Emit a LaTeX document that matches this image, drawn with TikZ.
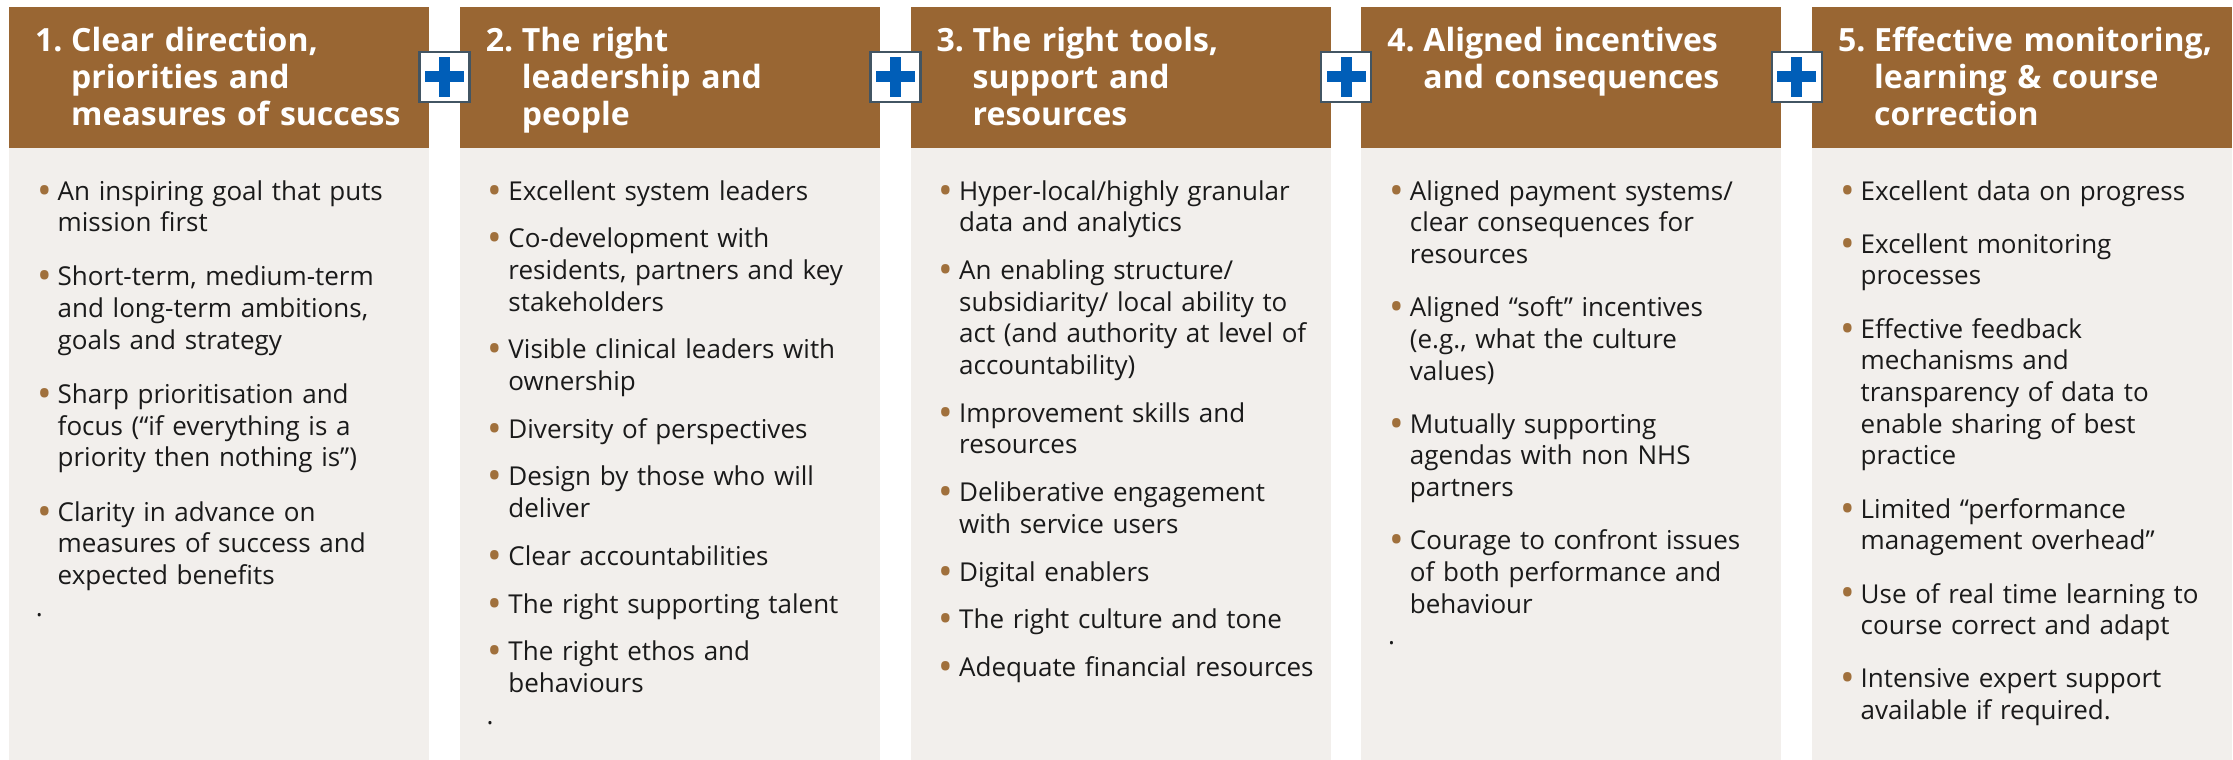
\documentclass[tikz,border=0pt]{standalone}
\usepackage{fontspec}
\setmainfont{Open Sans}
\definecolor{headbrown}{HTML}{996633}
\definecolor{panelgrey}{HTML}{F2EFEC}
\definecolor{dotbrown}{HTML}{A0703C}
\definecolor{nhsblue}{HTML}{005EB8}
\definecolor{frameslate}{HTML}{425563}
\definecolor{textdark}{HTML}{1A1A1A}
\newcommand{\bul}{\leavevmode\llap{\textcolor{dotbrown}{\raisebox{-4pt}{\scalebox{1.5}{\textbullet}}}\hspace{6pt}}}
\newcommand{\headnum}[1]{\llap{\makebox[36pt][l]{#1}}}
\begin{document}
\begin{tikzpicture}[x=1pt,y=-1pt,
  headbox/.style={fill=headbrown, minimum width=420pt, minimum height=141pt, inner sep=0pt, anchor=north west},
  panel/.style={fill=panelgrey, minimum width=420pt, minimum height=612pt, inner sep=0pt, anchor=north west},
  headtext/.style={text=white, font=\fontsize{32}{37}\selectfont\bfseries, text width=360pt, align=left, inner sep=0pt, anchor=base west},
  listtext/.style={text=textdark, font=\fontsize{26}{31.7}\selectfont, text width=380pt, align=left, inner sep=0pt, anchor=base west},
  plusframe/.style={draw=frameslate, line width=2.5pt, fill=white, minimum size=50pt, inner sep=0pt}]

\useasboundingbox (0,0) rectangle (2233,760);

% Column boxes: brown heading over grey panel
\foreach \i/\cx in {1/9,2/459.75,3/910.5,4/1361.25,5/1812}{
  \node[headbox] (h\i) at (\cx,7) {};
  \node[panel] (b\i) at (\cx,148) {};
}

% Plus signs between the columns
\foreach \i/\px in {1/444.5,2/895.25,3/1346,4/1796.75}{
  \node[plusframe] (p\i) at (\px,77) {};
  \fill[nhsblue] (\px-19.5,71.5) rectangle (\px+19.5,82.5);
  \fill[nhsblue] (\px-5.5,57.5) rectangle (\px+5.5,96.5);
}

% Headings
\node[headtext] (t1) at (71,52) {\headnum{1.}Clear direction,\\ priorities and\\ measures of success};
\node[headtext] (t2) at (521.75,52) {\headnum{2.}The right\\ leadership and\\ people};
\node[headtext] (t3) at (972.5,52) {\headnum{3.}The right tools,\\ support and\\ resources};
\node[headtext] (t4) at (1423.25,52) {\headnum{4.}Aligned incentives\\ and consequences};
\node[headtext] (t5) at (1874,52) {\headnum{5.}Effective monitoring,\\ learning \& course\\ correction};

% Bullet lists
\node[listtext] (l1) at (57.5,200) {\bul An inspiring goal that puts\\ mission first\\[22.5pt]
  \bul Short-term, medium-term\\ and long-term ambitions,\\ goals and strategy\\[22.5pt]
  \bul Sharp prioritisation and\\ focus (“if everything is a\\ priority then nothing is”)\\[22.5pt]
  \bul Clarity in advance on\\ measures of success and\\ expected benefits\\ \llap{.\hspace{15pt}}};

\node[listtext] (l2) at (508.25,200) {\bul Excellent system leaders\\[16pt]
  \bul Co-development with\\ residents, partners and key\\ stakeholders\\[16pt]
  \bul Visible clinical leaders with\\ ownership\\[16pt]
  \bul Diversity of perspectives\\[16pt]
  \bul Design by those who will\\ deliver\\[16pt]
  \bul Clear accountabilities\\[16pt]
  \bul The right supporting talent\\[16pt]
  \bul The right ethos and\\ behaviours\\ \llap{.\hspace{15pt}}};

\node[listtext] (l3) at (959,200) {\bul Hyper-local/highly granular\\ data and analytics\\[16pt]
  \bul An enabling structure/\\ subsidiarity/ local ability to\\ act (and authority at level of\\ accountability)\\[16pt]
  \bul Improvement skills and\\ resources\\[16pt]
  \bul Deliberative engagement\\ with service users\\[16pt]
  \bul Digital enablers\\[16pt]
  \bul The right culture and tone\\[16pt]
  \bul Adequate financial resources};

\node[listtext] (l4) at (1409.75,200) {\bul Aligned payment systems/\\ clear consequences for\\ resources\\[21.5pt]
  \bul Aligned “soft” incentives\\ (e.g., what the culture\\ values)\\[21.5pt]
  \bul Mutually supporting\\ agendas with non NHS\\ partners\\[21.5pt]
  \bul Courage to confront issues\\ of both performance and\\ behaviour\\ \llap{.\hspace{15pt}}};

\node[listtext] (l5) at (1860.5,200) {\bul Excellent data on progress\\[21.5pt]
  \bul Excellent monitoring\\ processes\\[21.5pt]
  \bul Effective feedback\\ mechanisms and\\ transparency of data to\\ enable sharing of best\\ practice\\[21.5pt]
  \bul Limited “performance\\ management overhead”\\[21.5pt]
  \bul Use of real time learning to\\ course correct and adapt\\[21.5pt]
  \bul Intensive expert support\\ available if required.};
\end{tikzpicture}
\end{document}
